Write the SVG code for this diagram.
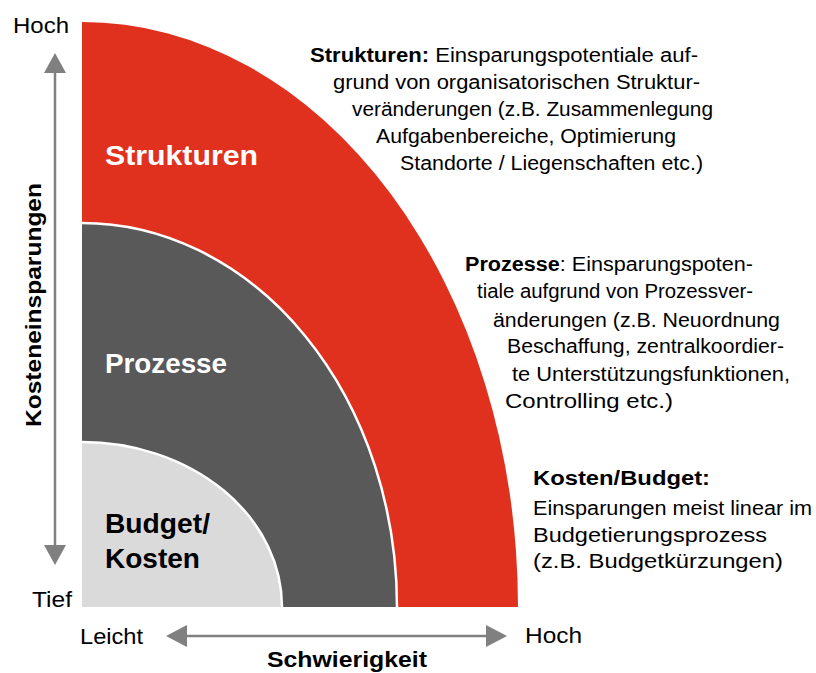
<svg xmlns="http://www.w3.org/2000/svg" width="816" height="673" viewBox="0 0 816 673">
<style>
text{font-family:"Liberation Sans",Arial,sans-serif;fill:#000}
.ax{font-size:22px}
.axb{font-size:22px;font-weight:bold}
.lbl{font-size:27px;font-weight:bold}
.w{fill:#fff}
.d{font-size:20px}
.b{font-weight:bold}
.sep{fill:none;stroke:#fff;stroke-width:2.5}
.axis{stroke:#808080;stroke-width:2.5;fill:none}
.head{fill:#808080}
</style>
<rect width="816" height="673" fill="#fff"/>
<g id="strukturen">
<path d="M82,607 L82,22 A436,585 0 0 1 518,607 Z" fill="#E0311F"/>
<text class="lbl w" x="105" y="165" textLength="153" lengthAdjust="spacingAndGlyphs">Strukturen</text>
</g>
<g id="prozesse">
<path d="M82,607 L82,223 A315,384 0 0 1 397,607 Z" fill="#595959"/>
<path class="sep" d="M82,223 A315,384 0 0 1 397,607"/>
<text class="lbl w" x="105" y="373" textLength="122" lengthAdjust="spacingAndGlyphs">Prozesse</text>
</g>
<g id="budget">
<path d="M82,607 L82,442 A200,165 0 0 1 282,607 Z" fill="#DADADA"/>
<path class="sep" d="M82,442 A200,165 0 0 1 282,607"/>
<text class="lbl" x="105" y="533" textLength="105" lengthAdjust="spacingAndGlyphs">Budget/</text>
<text class="lbl" x="105" y="568" textLength="95" lengthAdjust="spacingAndGlyphs">Kosten</text>
</g>
<g id="connectors">
<line class="axis" x1="55" y1="72" x2="55" y2="546"/>
<polygon class="head" points="55,53 44,73 66,73"/>
<polygon class="head" points="55,565 44,545 66,545"/>
<line class="axis" x1="186" y1="636" x2="487" y2="636"/>
<polygon class="head" points="166,636 187,625 187,647"/>
<polygon class="head" points="507,636 486,625 486,647"/>
</g>
<g id="axis-labels">
<text class="ax" x="13" y="33" textLength="56" lengthAdjust="spacingAndGlyphs">Hoch</text>
<text class="ax" x="32" y="607" textLength="40" lengthAdjust="spacingAndGlyphs">Tief</text>
<text class="ax" x="80" y="644" textLength="63" lengthAdjust="spacingAndGlyphs">Leicht</text>
<text class="ax" x="525" y="643" textLength="57" lengthAdjust="spacingAndGlyphs">Hoch</text>
<text class="axb" x="267" y="667" textLength="160" lengthAdjust="spacingAndGlyphs">Schwierigkeit</text>
<text class="axb" transform="translate(41,305) rotate(-90)" x="-122" y="0" textLength="244" lengthAdjust="spacingAndGlyphs">Kosteneinsparungen</text>
</g>
<g id="desc-strukturen">
<text class="d" x="310" y="62" textLength="388" lengthAdjust="spacingAndGlyphs"><tspan class="b">Strukturen:</tspan> Einsparungspotentiale auf-</text>
<text class="d" x="333" y="89" textLength="367" lengthAdjust="spacingAndGlyphs">grund von organisatorischen Struktur-</text>
<text class="d" x="352" y="116" textLength="361" lengthAdjust="spacingAndGlyphs">veränderungen (z.B. Zusammenlegung</text>
<text class="d" x="376" y="143" textLength="300" lengthAdjust="spacingAndGlyphs">Aufgabenbereiche, Optimierung</text>
<text class="d" x="400" y="170" textLength="303" lengthAdjust="spacingAndGlyphs">Standorte / Liegenschaften etc.)</text>
</g>
<g id="desc-prozesse">
<text class="d" x="465" y="271" textLength="288" lengthAdjust="spacingAndGlyphs"><tspan class="b">Prozesse</tspan>: Einsparungspoten-</text>
<text class="d" x="477" y="298" textLength="276" lengthAdjust="spacingAndGlyphs">tiale aufgrund von Prozessver-</text>
<text class="d" x="493" y="327" textLength="287" lengthAdjust="spacingAndGlyphs">änderungen (z.B. Neuordnung</text>
<text class="d" x="507" y="353" textLength="277" lengthAdjust="spacingAndGlyphs">Beschaffung, zentralkoordier-</text>
<text class="d" x="512" y="381" textLength="278" lengthAdjust="spacingAndGlyphs">te Unterstützungsfunktionen,</text>
<text class="d" x="505" y="408" textLength="168" lengthAdjust="spacingAndGlyphs">Controlling etc.)</text>
</g>
<g id="desc-kosten">
<text class="d b" x="533" y="485" textLength="177" lengthAdjust="spacingAndGlyphs">Kosten/Budget:</text>
<text class="d" x="533" y="515" textLength="279" lengthAdjust="spacingAndGlyphs">Einsparungen meist linear im</text>
<text class="d" x="533" y="542" textLength="234" lengthAdjust="spacingAndGlyphs">Budgetierungsprozess</text>
<text class="d" x="533" y="568" textLength="250" lengthAdjust="spacingAndGlyphs">(z.B. Budgetkürzungen)</text>
</g>
</svg>
